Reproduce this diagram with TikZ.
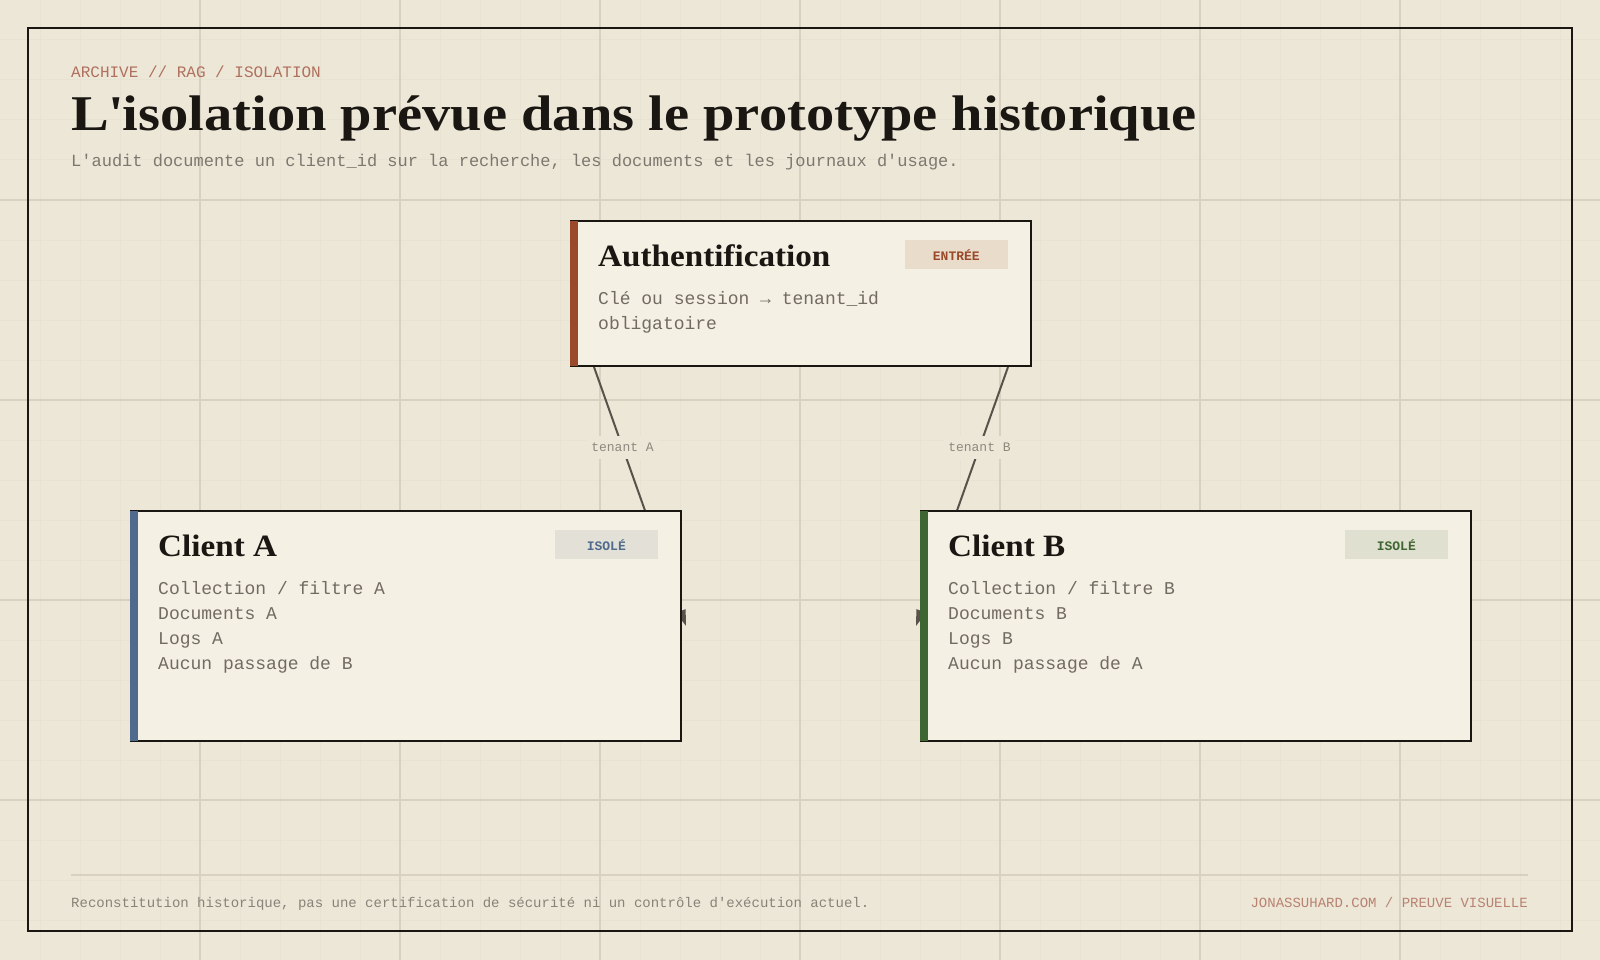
\documentclass[tikz,border=0pt]{standalone}
\usepackage{fontspec}
\setmainfont{Liberation Serif}
\setmonofont{Liberation Mono}
\newfontfamily\headserif[FakeStretch=1.13]{Liberation Serif}
\newfontfamily\cardserif[FakeStretch=1.07]{Liberation Serif}
\usetikzlibrary{positioning,arrows.meta}
\definecolor{paper}{HTML}{EDE7D8}
\definecolor{cardfill}{HTML}{F5F0E4}
\definecolor{ink}{HTML}{1A1612}
\definecolor{gridmajor}{HTML}{D8D1C2}
\definecolor{gridminor}{HTML}{E8E2D3}
\definecolor{rust}{HTML}{9A4A2A}
\definecolor{slate}{HTML}{4F6A8C}
\definecolor{moss}{HTML}{3F6632}
\definecolor{rustbadge}{HTML}{E9DCCB}
\definecolor{slatebadge}{HTML}{E3E1D7}
\definecolor{mossbadge}{HTML}{DFE0CF}
\definecolor{muted}{HTML}{7D776F}
\definecolor{bodygray}{HTML}{716B63}
\definecolor{linkgray}{HTML}{58524A}
\definecolor{eyebrow}{HTML}{B0705E}
\pgfdeclarelayer{grid}
\pgfdeclarelayer{links}
\pgfsetlayers{grid,links,main}
\tikzset{
  card/.style={draw=ink, line width=2pt, fill=cardfill, anchor=north west, inner sep=0pt},
  cardtitle/.style={anchor=base west, inner sep=0pt, text=ink,
    font=\cardserif\bfseries\fontsize{31}{36}\selectfont},
  cardbody/.style={anchor=base west, inner sep=0pt, text=bodygray,
    font=\ttfamily\fontsize{18}{25}\selectfont},
  badge/.style={anchor=north east, fill=#1, minimum width=103pt, minimum height=29pt, inner sep=0pt,
    font=\ttfamily\bfseries\fontsize{13}{13}\selectfont},
  link/.style={draw=linkgray, line width=2pt, -{Triangle[length=16pt,width=10pt]}},
  linklabel/.style={fill=paper, inner xsep=4pt, inner ysep=7pt, text=muted!85!paper,
    font=\ttfamily\fontsize{13}{13}\selectfont},
}
\begin{document}
\begin{tikzpicture}[x=1pt,y=-1pt]
\useasboundingbox (0,0) rectangle (1600,960);
% paper and grid
\begin{pgfonlayer}{grid}
\fill[paper] (0,0) rectangle (1600,960);
\foreach \x in {40,80,...,1560} \draw[gridminor, line width=1pt] (\x,0) -- (\x,960);
\foreach \y in {40,80,...,920} \draw[gridminor, line width=1pt] (0,\y) -- (1600,\y);
\foreach \x in {200,400,...,1400} \draw[gridmajor, line width=1.5pt] (\x,0) -- (\x,960);
\foreach \y in {200,400,...,800} \draw[gridmajor, line width=1.5pt] (0,\y) -- (1600,\y);
\end{pgfonlayer}
\draw[ink, line width=2.6pt] (28,28) rectangle (1572,931);

% header
\node[anchor=base west, inner sep=0pt, text=eyebrow, font=\ttfamily\fontsize{16}{16}\selectfont]
  (eyebrow) at (71,78) {ARCHIVE // RAG / ISOLATION};
\node[anchor=base west, inner sep=0pt, text=ink, font=\headserif\bfseries\fontsize{50}{56}\selectfont]
  (title) at (71,131) {L\textquotesingle isolation prévue dans le prototype historique};
\node[anchor=base west, inner sep=0pt, text=muted, font=\ttfamily\fontsize{17}{17}\selectfont]
  (subtitle) at (71,167) {L'audit documente un client\_id sur la recherche, les documents et les journaux d'usage.};

% cards
\node[card, minimum width=460pt, minimum height=145pt] (auth) at (570,220) {};
\node[card, minimum width=550pt, minimum height=230pt] (clientA) at (130,510) {};
\node[card, minimum width=550pt, minimum height=230pt] (clientB) at (920,510) {};

\fill[rust] ([yshift=-1pt]auth.north west) rectangle ([xshift=8pt,yshift=1pt]auth.south west);
\fill[slate] ([yshift=-1pt]clientA.north west) rectangle ([xshift=8pt,yshift=1pt]clientA.south west);
\fill[moss] ([yshift=-1pt]clientB.north west) rectangle ([xshift=8pt,yshift=1pt]clientB.south west);

\node[cardtitle] (auth-t) at ([xshift=28pt,yshift=-46pt]auth.north west) {Authentification};
\node[badge=rustbadge, text=rust] (auth-b) at ([xshift=-24pt,yshift=-20pt]auth.north east) {ENTRÉE};
\node[cardbody] (auth-l0) at ([xshift=28pt,yshift=-84pt]auth.north west) {Clé ou session → tenant\_id};
\node[cardbody] (auth-l1) at ([xshift=28pt,yshift=-109pt]auth.north west) {obligatoire};

\node[cardtitle] (clientA-t) at ([xshift=28pt,yshift=-46pt]clientA.north west) {Client A};
\node[badge=slatebadge, text=slate] (clientA-b) at ([xshift=-24pt,yshift=-20pt]clientA.north east) {ISOLÉ};
\foreach \txt [count=\i from 0] in {Collection / filtre A, Documents A, Logs A, Aucun passage de B}
  \node[cardbody] (clientA-l\i) at ([xshift=28pt,yshift={-84pt-25pt*\i}]clientA.north west) {\txt};

\node[cardtitle] (clientB-t) at ([xshift=28pt,yshift=-46pt]clientB.north west) {Client B};
\node[badge=mossbadge, text=moss] (clientB-b) at ([xshift=-24pt,yshift=-20pt]clientB.north east) {ISOLÉ};
\foreach \txt [count=\i from 0] in {Collection / filtre B, Documents B, Logs B, Aucun passage de A}
  \node[cardbody] (clientB-l\i) at ([xshift=28pt,yshift={-84pt-25pt*\i}]clientB.north west) {\txt};

% links, behind the cards
\begin{pgfonlayer}{links}
\draw[link] ([xshift=24pt]auth.south west) -- node[linklabel, pos=0.31] (tenA) {tenant A} ([xshift=4pt]clientA.east);
\draw[link] ([xshift=-24pt]auth.south east) -- node[linklabel, pos=0.31] (tenB) {tenant B} ([xshift=-4pt]clientB.west);
\end{pgfonlayer}

% footer
\draw[gridmajor, line width=2pt] (71,874.5) -- (1528,874.5);
\node[anchor=base west, inner sep=0pt, text=muted!90!paper, font=\ttfamily\fontsize{14}{14}\selectfont]
  (foot-l) at (71,907) {Reconstitution historique, pas une certification de sécurité ni un contrôle d'exécution actuel.};
\node[anchor=base east, inner sep=0pt, text=eyebrow!85!paper, font=\ttfamily\fontsize{14}{14}\selectfont]
  (foot-r) at (1528,907) {JONASSUHARD.COM / PREUVE VISUELLE};
\end{tikzpicture}
\end{document}
